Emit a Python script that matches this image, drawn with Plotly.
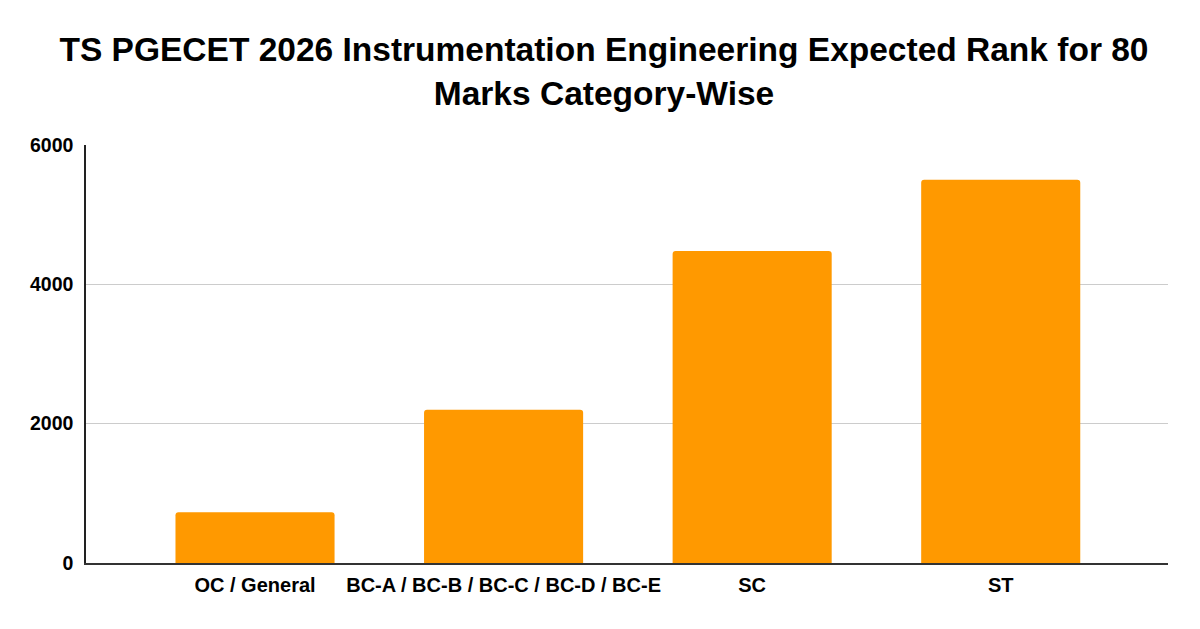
import plotly.graph_objects as go

# =========================
# DATA
# =========================

categories = ["OC / General", "BC-A / BC-B / BC-C / BC-D / BC-E", "SC", "ST"]
expected_rank = [730, 2200, 4480, 5500]
y_ticks = [0, 2000, 4000, 6000]

FONT = "Liberation Sans, Arial, sans-serif"

fig = go.Figure()

# =========================
# BARS
# =========================

fig.add_trace(
    go.Bar(
        x=categories,
        y=expected_rank,
        marker=dict(color="#FF9900", cornerradius=3, line=dict(width=0)),
        hoverinfo="x+y",
        showlegend=False
    )
)

# =========================
# LAYOUT
# =========================

# page body has an 8px margin, so the figure is a bit smaller than the window
fig.update_layout(
    width=1192,
    height=621,
    plot_bgcolor="white",
    paper_bgcolor="white",
    margin=dict(l=78, r=32, t=137, b=66),
    bargap=0.36,
    font=dict(family=FONT, color="black"),

    title=dict(
        text="<b>TS PGECET 2026 Instrumentation Engineering Expected Rank for 80<br>Marks Category-Wise</b>",
        x=0.5,
        xanchor="center",
        y=1 - 53 / 621,
        yanchor="middle",
        font=dict(family=FONT, size=33.5, color="black")
    ),

    xaxis=dict(
        range=[-0.68, 3.673],
        showgrid=False,
        showline=True,
        linecolor="#333333",
        linewidth=2,
        ticks="",
        tickfont=dict(family=FONT, size=20, color="black", weight="bold"),
        ticklabelstandoff=3
    ),

    yaxis=dict(
        range=[0, 6000],
        tickvals=y_ticks,
        ticktext=[str(v) for v in y_ticks],
        showgrid=True,
        gridcolor="#cccccc",
        gridwidth=1,
        zeroline=False,
        showline=True,
        linecolor="#222222",
        linewidth=1.5,
        ticks="",
        tickfont=dict(family=FONT, size=19.5, color="black", weight="bold"),
        ticklabelstandoff=7
    )
)

fig.write_html("out.html")
